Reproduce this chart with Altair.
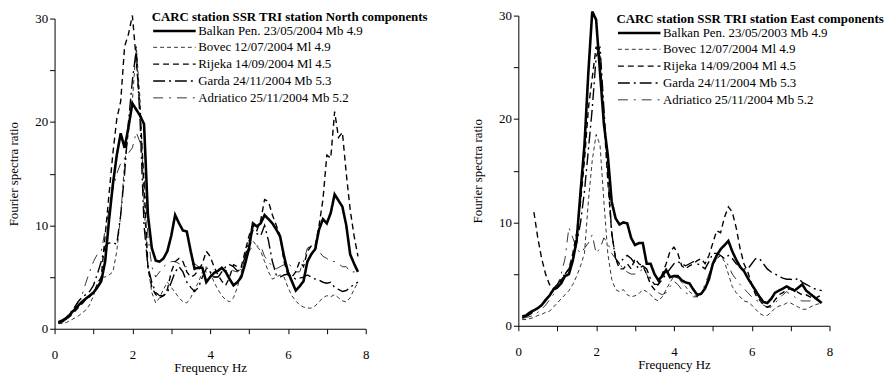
import altair as alt
import pandas as pd

FONT = "Liberation Serif"

freq = [0.1, 0.2, 0.3, 0.4, 0.5, 0.6, 0.7, 0.8, 0.9, 1.0,
        1.1, 1.2, 1.3, 1.4, 1.5, 1.6, 1.7, 1.8, 1.9, 2.0,
        2.1, 2.2, 2.3, 2.4, 2.5, 2.6, 2.7, 2.8, 2.9, 3.0,
        3.1, 3.2, 3.3, 3.4, 3.5, 3.6, 3.7, 3.8, 3.9, 4.0,
        4.1, 4.2, 4.3, 4.4, 4.5, 4.6, 4.7, 4.8, 4.9, 5.0,
        5.1, 5.2, 5.3, 5.4, 5.5, 5.6, 5.7, 5.8, 5.9, 6.0,
        6.1, 6.2, 6.3, 6.4, 6.5, 6.6, 6.7, 6.8, 6.9, 7.0,
        7.1, 7.2, 7.3, 7.4, 7.5, 7.6, 7.7, 7.8]

north_title = "CARC station SSR TRI station North components"
east_title = "CARC station SSR TRI station East components"

north_names = ["Balkan Pen. 23/05/2004 Mb 4.9", "Bovec 12/07/2004 Ml 4.9",
               "Rijeka 14/09/2004 Ml 4.5", "Garda 24/11/2004 Mb 5.3",
               "Adriatico 25/11/2004 Mb 5.2"]
east_names = ["Balkan Pen. 23/05/2003 Mb 4.9", "Bovec 12/07/2004 Ml 4.9",
              "Rijeka 14/09/2004 Ml 4.5", "Garda 24/11/2004 Mb 5.3",
              "Adriatico 25/11/2004 Mb 5.2"]

# ---- North components ----
north_balkan = [0.64, 0.8, 1.0, 1.4, 1.8, 2.2, 2.6, 2.9, 3.2, 3.5,
                4.0, 4.6, 6.5, 10.5, 14.0, 16.8, 18.9, 17.5, 19.5, 21.8,
                21.2, 20.6, 19.8, 11.0, 7.8, 6.6, 6.5, 6.8, 7.5, 9.0,
                11.0, 10.2, 9.5, 9.4, 7.5, 5.8, 5.9, 5.9, 4.5, 5.0,
                5.4, 5.6, 5.9, 5.5, 4.8, 4.2, 4.5, 5.0, 6.3, 7.8,
                10.2, 9.9, 10.2, 11.0, 10.6, 10.2, 9.6, 8.9, 7.0, 5.5,
                4.6, 3.7, 4.1, 4.6, 6.5, 7.2, 7.7, 9.6, 10.6, 10.2,
                11.2, 13.0, 12.4, 11.8, 10.0, 7.2, 6.3, 5.5]
north_bovec = [0.5, 0.5, 0.6, 0.8, 1.0, 1.2, 1.5, 1.8, 2.3, 3.2,
               4.5, 5.0, 5.0, 5.2, 5.5, 7.5, 11.0, 16.0, 19.0, 22.0,
               27.3, 22.0, 12.0, 6.0, 3.5, 2.5, 3.0, 3.8, 4.5, 4.0,
               3.5, 3.0, 2.6, 2.5, 3.0, 3.8, 4.5, 5.5, 6.0, 5.5,
               4.5, 3.8, 3.2, 2.8, 2.6, 3.0, 4.0, 5.5, 7.0, 8.0,
               8.5, 8.0, 7.5, 6.5, 5.5, 4.8, 5.0, 5.2, 5.0, 4.0,
               3.2, 2.7, 2.3, 2.1, 2.0, 2.0, 2.2, 2.6, 3.0, 3.2,
               3.1, 3.3, 3.0, 2.7, 2.6, 3.0, 3.8, 4.5]
north_rijeka = [0.6, 0.7, 0.9, 1.2, 1.6, 2.0, 2.4, 2.8, 3.1, 3.5,
                4.2, 5.0, 9.0, 13.0, 17.0, 20.3, 22.0, 27.3, 28.5, 30.3,
                26.0, 21.0, 14.0, 6.0, 4.0, 3.3, 3.0, 3.2, 3.8, 5.5,
                6.5, 6.8, 6.5, 5.5, 5.0, 5.2, 5.7, 6.3, 7.5, 7.0,
                6.0, 5.2, 4.6, 4.2, 5.0, 6.2, 6.0, 6.0, 7.5, 9.0,
                10.0, 9.5, 10.5, 12.5, 12.3, 11.0, 10.0, 9.0, 6.5, 5.2,
                5.0, 5.5, 6.5, 6.0, 7.5, 8.0, 8.0, 10.0, 12.5, 16.8,
                16.5, 21.0, 18.5, 19.0, 15.0, 11.5, 9.0, 7.0]
north_garda = [0.6, 0.8, 1.1, 1.5, 2.0, 2.6, 3.0, 3.3, 3.6, 4.2,
               5.3, 6.5, 8.0, 8.3, 8.3, 8.2, 11.0, 15.0, 20.0, 24.0,
               27.0, 20.0, 10.0, 6.0, 4.5, 3.5, 3.2, 3.2, 3.5, 4.5,
               5.5, 6.0, 5.5, 4.5, 4.0, 3.6, 4.0, 5.0, 5.8, 5.5,
               5.0, 5.0, 5.5, 6.0, 6.2, 6.0, 5.6, 5.8, 7.0, 8.5,
               9.5, 9.2, 9.0, 10.0, 8.5, 6.5, 5.2, 5.0, 5.2, 5.3,
               5.0, 4.8, 4.9, 5.0, 5.2, 5.0, 4.8, 4.7, 4.5, 4.4,
               4.5, 4.0, 3.8, 3.6, 3.7, 4.0, 4.3, 4.5]
north_adriatico = [0.5, 0.6, 0.9, 1.4, 2.0, 2.5, 3.2, 4.4, 5.5, 6.5,
                   7.2, 7.5, 9.5, 11.5, 13.5, 15.0, 16.0, 16.5, 17.0, 17.5,
                   19.0, 18.0, 15.0, 9.0, 6.0, 5.0, 5.5, 6.0, 6.3, 6.5,
                   6.5, 6.3, 6.0, 6.0, 6.2, 6.3, 6.0, 5.8, 5.5, 5.2,
                   5.0, 5.0, 5.3, 5.6, 5.8, 5.6, 5.5, 5.8, 6.5, 7.5,
                   8.0, 8.0, 8.0, 7.0, 6.5, 6.0, 5.8, 6.0, 6.2, 6.3,
                   6.0, 5.5, 5.5, 6.5, 7.8, 8.0, 8.0, 7.5, 7.0, 6.8,
                   6.5, 6.5, 6.3, 6.0, 6.0, 5.5, 5.5, 5.5]

# ---- East components ----
east_balkan = [0.9, 1.0, 1.3, 1.5, 1.7, 2.0, 2.5, 2.9, 3.5, 3.7,
               4.1, 4.8, 5.0, 6.3, 8.3, 13.0, 17.5, 24.5, 30.4, 29.6,
               24.5, 19.5, 16.5, 12.0, 10.4, 9.8, 10.0, 9.9, 8.5, 7.8,
               8.0, 8.0, 6.0, 6.0, 5.0, 4.4, 4.8, 5.4, 4.7, 4.8,
               4.8, 4.4, 4.2, 4.1, 3.5, 3.0, 3.1, 3.6, 4.5, 6.0,
               6.8, 7.4, 7.8, 8.2, 7.2, 6.4, 5.7, 5.3, 4.6, 4.0,
               3.4, 2.8, 2.3, 2.2, 2.6, 3.2, 3.4, 3.6, 3.8, 3.6,
               3.4, 3.7, 4.0, 3.4, 3.1, 2.8, 2.5, 2.2]
east_bovec = [0.6, 0.6, 0.7, 0.8, 1.0, 1.1, 1.3, 1.4, 1.8, 2.2,
              2.6, 3.0, 3.4, 4.0, 4.8, 5.8, 7.0, 12.0, 16.0, 18.5,
              17.5, 12.0, 7.0, 4.5, 3.5, 3.3, 3.5, 3.0, 2.8, 2.9,
              3.1, 3.5, 3.3, 3.0, 2.6, 2.4, 2.8, 3.5, 4.2, 4.8,
              4.6, 4.2, 3.8, 3.3, 3.0, 2.8, 3.0, 3.8, 4.8, 5.8,
              6.5, 6.8, 6.2, 5.0, 3.8, 3.2, 2.8, 2.4, 2.3, 2.0,
              1.6, 1.2, 1.0, 1.0, 1.3, 1.7, 1.9, 2.0, 2.2, 2.2,
              2.0, 1.8, 1.6, 1.6, 1.8, 2.0, 2.1, 2.2]
east_rijeka = [None, None, None, 11.0, 8.5, 6.5, 5.0, 4.0, 3.6, 3.8,
               4.4, 5.0, 5.5, 7.0, 9.0, 12.0, 16.0, 21.0, 24.0, 27.0,
               26.0, 20.0, 14.0, 9.0, 6.5, 5.5, 5.5, 6.0, 5.5, 6.5,
               6.0, 5.8, 5.0, 4.0, 3.5, 4.0, 5.0, 6.0, 7.2, 7.6,
               7.0, 5.8, 5.5, 5.8, 6.0, 6.3, 6.5, 6.0, 6.8, 8.0,
               9.2, 9.0, 10.5, 11.5, 11.0, 9.5, 7.5, 6.0, 5.2, 4.0,
               3.0, 2.5, 2.0, 1.8, 2.0, 2.5, 3.0, 3.2, 3.5, 3.6,
               3.5, 3.2, 3.0, 3.0, 2.8, 2.6, 2.8, 3.0]
east_garda = [0.8, 0.9, 1.1, 1.4, 1.7, 2.0, 2.4, 3.0, 3.6, 4.0,
              4.5, 5.0, 5.5, 6.5, 8.0, 10.0, 13.0, 17.0, 21.0, 26.0,
              27.0, 21.0, 15.0, 9.0, 6.5, 6.0, 6.5, 6.8, 6.5, 6.0,
              5.5, 5.8, 5.5, 4.5, 4.0, 4.0, 4.5, 5.0, 5.5, 6.0,
              6.2, 6.0, 5.8, 6.0, 6.2, 6.0, 5.8, 5.5, 6.2, 7.0,
              7.0, 6.8, 6.5, 6.8, 6.5, 6.0, 5.8, 5.5, 5.5, 6.0,
              6.5, 6.5, 6.0, 5.5, 5.2, 5.0, 4.8, 4.6, 4.5, 4.5,
              4.4, 4.6, 4.2, 4.0, 3.8, 3.6, 3.5, 3.4]
east_adriatico = [0.7, 0.8, 0.9, 1.0, 1.3, 1.6, 2.0, 2.5, 3.0, 3.8,
                  5.0, 6.5, 9.5, 8.5, 7.5, 7.0, 7.5, 8.0, 8.8, 7.0,
                  7.5, 8.5, 8.0, 7.0, 6.5, 6.0, 5.5, 5.2, 5.0, 5.0,
                  5.2, 5.5, 5.0, 4.0, 3.5, 3.2, 3.0, 3.2, 3.8, 4.3,
                  4.0, 3.5, 3.2, 3.0, 2.8, 2.8, 3.2, 4.0, 5.0, 6.0,
                  6.5, 6.8, 6.5, 5.8, 5.0, 4.5, 4.0, 3.6, 3.2, 2.8,
                  2.5, 2.3, 2.0, 1.8, 1.8, 2.2, 2.6, 3.0, 3.3, 3.0,
                  2.8, 2.5, 2.4, 2.4, 2.4, 2.5, 2.7, 3.0]

x_ticks = [0, 1, 2, 3, 4, 5, 6, 7, 8]
y_ticks = [0, 5, 10, 15, 20, 25, 30]

dash_styles = [[1, 0], [4, 3], [6, 4], [12, 4, 2, 4], [10, 6, 2, 6]]
width_styles = [2.6, 0.8, 1.4, 1.4, 0.8]


def panel(names, series, title, lx, ly, height, y_range):
    rows = []
    for name, vals in zip(names, series):
        for f, v in zip(freq, vals):
            if v is not None:
                rows.append({"f": f, "v": v, "s": name})
    df = pd.DataFrame(rows)
    leg = alt.Legend(
        title=title, orient="none", legendX=lx, legendY=ly,
        symbolType="M-1,0H6.8", symbolSize=121, symbolStrokeColor="black",
        labelOffset=33, rowPadding=3, titlePadding=0,
        titleFont=FONT, titleFontSize=13, titleFontWeight="bold", titleColor="black",
        labelFont=FONT, labelFontSize=13, labelColor="black",
        titleLimit=500, labelLimit=400,
    )
    return alt.Chart(df).mark_line(color="black").encode(
        x=alt.X("f:Q", scale=alt.Scale(domain=[0, 8], nice=False),
                axis=alt.Axis(values=x_ticks, title="Frequency Hz",
                              labelExpr="datum.value % 2 == 0 ? datum.label : ''",
                              labelFlush=False, labelOverlap=False,
                              labelPadding=15, titlePadding=0)),
        y=alt.Y("v:Q", scale=alt.Scale(domain=[0, 30], nice=False, range=y_range),
                axis=alt.Axis(values=y_ticks, title="Fourier spectra ratio",
                              labelExpr="datum.value % 10 == 0 ? datum.label : ''",
                              labelFlush=False, labelOverlap=False,
                              labelPadding=2, titlePadding=14)),
        strokeDash=alt.StrokeDash("s:N", scale=alt.Scale(domain=names, range=dash_styles), legend=leg),
        strokeWidth=alt.StrokeWidth("s:N", scale=alt.Scale(type="ordinal", domain=names, range=width_styles), legend=leg),
    ).properties(width=314, height=height)


left = panel(north_names,
             [north_balkan, north_bovec, north_rijeka, north_garda, north_adriatico],
             north_title, 98, -4.5, 316, [316, 3])
right = panel(east_names,
              [east_balkan, east_bovec, east_rijeka, east_garda, east_adriatico],
              east_title, 99, -2.5, 313, [313, 0])

chart = alt.hconcat(left, right, spacing=44).resolve_scale(
    strokeDash="independent", strokeWidth="independent"
).resolve_legend(
    strokeDash="independent", strokeWidth="independent"
).configure_view(strokeWidth=0).configure_axis(
    grid=False, domainColor="black", tickColor="black", labelColor="black",
    titleColor="black", labelFont=FONT, titleFont=FONT, labelFontSize=13,
    titleFontSize=13, titleFontWeight="normal", tickSize=5,
).properties(padding={"left": 0, "top": -4, "right": 0, "bottom": 0})

chart.save("out.html", embed_options={"renderer": "svg", "actions": False})
